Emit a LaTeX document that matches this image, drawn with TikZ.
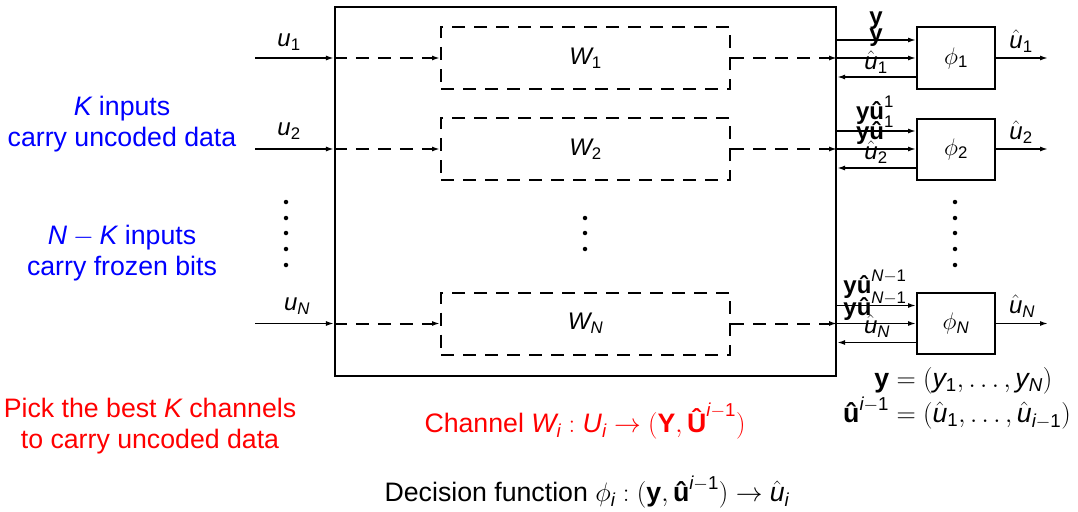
\RequirePackage{fix-cm}
\documentclass[tikz,border=0pt]{standalone}
\usepackage{amsmath}
\usepackage{mathspec}
\setmainfont{Liberation Sans}
\setmathsfont(Digits,Latin){Liberation Sans}
\newfontface\bsans{Liberation Sans Bold}
% bold upright sans vectors, plain and with a hat
\newcommand{\bv}[1]{\text{\bsans #1}}
\newcommand{\bhat}[1]{\text{\bsans\^{#1}}}
\usetikzlibrary{arrows.meta,calc}

\tikzset{
  frame/.style={draw, line width=2.2pt, inner sep=0pt},
  chan/.style={draw, line width=2pt, dash pattern=on 13pt off 9pt,
    minimum width=289pt, minimum height=62pt, inner sep=0pt,
    font=\fontsize{24}{28}\selectfont},
  dec/.style={draw, line width=2pt, minimum width=78pt, minimum height=61pt,
    inner sep=0pt, font=\fontsize{24}{28}\selectfont},
  sig/.style={line width=1.5pt, -{Latex[length=8pt,width=5pt]}},
  dsig/.style={sig, line width=2pt, dash pattern=on 13pt off 9pt},
  lbl/.style={font=\fontsize{24}{28}\selectfont, inner sep=0pt},
  blbl/.style={font=\fontsize{24}{28}\selectfont, inner sep=0pt},
  txt/.style={font=\fontsize{26.7}{31}\selectfont, align=center, inner sep=0pt},
  dot/.style={circle, fill, inner sep=0pt, minimum size=4.5pt},
}

\begin{document}
\begin{tikzpicture}[x=1pt, y=-1pt]
\useasboundingbox (0,0) rectangle (1078,511);

% polarized channel block
\node[frame, minimum width=501pt, minimum height=369pt] (box) at (585.5,191.5) {};

% synthetic channels
\node[chan] (W1) at (585.5,58)  {$W_1$};
\node[chan] (W2) at (585.5,149) {$W_2$};
\node[chan] (WN) at (585.5,323.5) {$W_N$};

% decision elements
\node[dec] (p1) at (956,58)  {$\phi_1$};
\node[dec] (p2) at (956,149) {$\phi_2$};
\node[dec] (pN) at (956,323.5) {$\phi_N$};

% input ends and output ends
\coordinate (i1) at (255,58);
\coordinate (i2) at (255,149);
\coordinate (iN) at (255,323.5);
\coordinate (o1) at (1048,58);
\coordinate (o2) at (1048,149);
\coordinate (oN) at (1048,323.5);

\foreach \k in {1,2,N}{
  \draw[sig]  (i\k) -- (i\k -| box.west);
  \draw[dsig] (i\k -| box.west) -- (W\k.west);
  \draw[dsig] (W\k.east) -- (W\k.east -| box.east);
  \draw[sig]  (W\k.east -| box.east) -- (p\k.west);
  \draw[sig]  ($(box.east |- p\k.west)+(0,-18)$) -- ($(p\k.west)+(0,-18)$);
  \draw[sig]  ($(p\k.west)+(0,19)$) -- ($(box.east |- p\k.west)+(0,19)$);
  \draw[sig]  (p\k.east) -- (o\k);
}

% input labels
\node[lbl] (lu1) at (289,42)  {$u_1$};
\node[lbl] (lu2) at (289,131) {$u_2$};
\node[lbl] (luN) at (297,306) {$u_N$};

% output labels
\node[lbl] (lh1) at (1021,41)  {$\hat{u}_1$};
\node[lbl] (lh2) at (1021,132) {$\hat{u}_2$};
\node[lbl] (lhN) at (1022,306) {$\hat{u}_N$};

% labels of the feedback lines
\node[blbl] (a1) at (876,21) {$\bv{y}$};
\node[blbl] (b1) at (876,38) {$\bv{y}$};
\node[lbl]  (c1) at (876,62) {$\hat{u}_1$};
\node[blbl] (a2) at (875,110) {$\bv{y}\bhat{u}^{1}$};
\node[blbl] (b2) at (875,130) {$\bv{y}\bhat{u}^{1}$};
\node[lbl]  (c2) at (876,152) {$\hat{u}_2$};
\node[blbl] (aN) at (875,284) {$\bv{y}\bhat{u}^{N-1}$};
\node[blbl] (bN) at (875,306) {$\bv{y}\bhat{u}^{N-1}$};
\node[lbl]  (cN) at (877,326) {$\hat{u}_N$};

% vertical ellipses
\foreach \yy in {202,218,233,249,265}{
  \node[dot] at (286,\yy) {};
  \node[dot] at (955,\yy) {};
}
\foreach \yy in {218,233,249}{
  \node[dot] at (585,\yy) {};
}

% annotations
\node[txt, text=blue] (data) at (122,124.5) {$K$ inputs\\carry uncoded data};
\node[txt, text=blue] (frozen) at (122,253) {$N-K$ inputs\\carry frozen bits};
\node[txt, text=red] (pick) at (150,426) {Pick the best $K$ channels\\to carry uncoded data};
\node[txt, text=red] (chdef) at (585,421) {Channel $W_i : U_i \rightarrow (\bv{Y}, \bhat{U}^{i-1})$};
\node[txt] (decdef) at (587,492) {Decision function $\phi_i : (\bv{y}, \bhat{u}^{i-1}) \rightarrow \hat{u}_i$};
\node[txt] (vecs) at (957,399) {$\begin{aligned}\bv{y} &= (y_1, \ldots, y_N)\\[-4pt]
  \bhat{u}^{i-1} &= (\hat{u}_1, \ldots, \hat{u}_{i-1})\end{aligned}$};
\end{tikzpicture}
\end{document}
